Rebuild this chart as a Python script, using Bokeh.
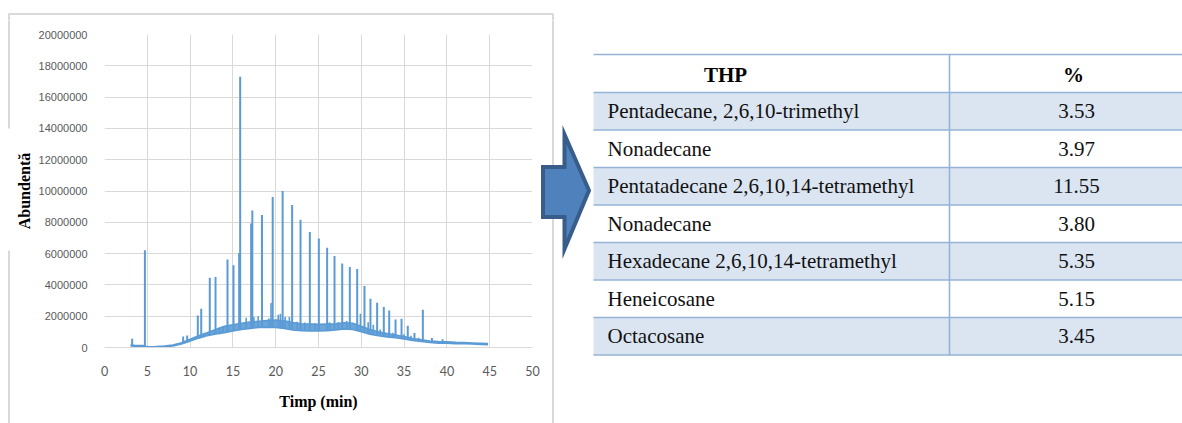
from bokeh.plotting import figure
from bokeh.layouts import row, column
from bokeh.models import Range1d, FixedTicker, BasicTickFormatter
from bokeh.core.properties import value
from bokeh.embed import file_html
from bokeh.resources import INLINE

# ---------------- chromatogram data ----------------
x_ticks = [0, 5, 10, 15, 20, 25, 30, 35, 40, 45, 50]
y_ticks = [0, 2000000, 4000000, 6000000, 8000000, 10000000,
           12000000, 14000000, 16000000, 18000000, 20000000]

# main peaks: retention time (min), apex and foot abundance (millions)
peak_rt = [3.23, 4.72, 9.19, 9.66, 10.90, 11.30, 12.30, 12.97, 14.37, 15.07,
           15.73, 15.85, 17.13, 17.27, 18.40, 19.65, 20.81, 21.92, 22.90, 23.99,
           25.04, 26.01, 26.87, 27.77, 28.66, 29.52, 30.37, 31.07, 31.85, 32.63,
           33.26, 34.00, 34.70, 35.43, 36.21, 37.19, 38.25, 39.50]
peak_top_m = [0.56, 6.21, 0.70, 0.77, 2.05, 2.48, 4.46, 4.50, 5.63, 5.25,
              6.04, 17.30, 7.92, 8.75, 8.47, 9.62, 10.00, 9.10, 8.17, 7.38,
              6.96, 6.38, 5.85, 5.36, 5.14, 5.01, 3.93, 3.12, 2.86, 2.58,
              2.37, 1.79, 1.84, 1.39, 0.92, 2.41, 0.61, 0.53]
peak_foot_m = [0.10, 0.07, 0.22, 0.30, 0.55, 0.62, 0.78, 0.85, 0.98, 1.05,
               1.12, 1.13, 1.22, 1.23, 1.28, 1.30, 1.24, 1.13, 1.08, 1.05,
               1.05, 1.08, 1.12, 1.17, 1.16, 1.10, 0.95, 0.85, 0.77, 0.70,
               0.66, 0.62, 0.57, 0.52, 0.44, 0.38, 0.32, 0.28]

# small spikes riding on the hump
minor_rt = [11.65, 13.45, 13.85, 16.55, 17.45, 17.95, 19.20, 19.45, 20.30, 20.55,
            21.10, 21.60, 22.50, 23.40, 24.60, 26.30, 27.30, 28.30, 29.90, 30.80,
            31.40, 32.20, 33.70, 35.00, 35.80, 36.70]
minor_top_m = [0.95, 1.28, 1.30, 1.90, 1.95, 2.00, 1.85, 2.85, 2.10, 2.15,
               1.95, 1.95, 1.65, 1.60, 1.55, 1.62, 1.62, 1.70, 2.15, 1.62,
               1.45, 1.15, 0.95, 0.85, 0.75, 0.62]
minor_foot_m = [0.66, 0.85, 0.92, 1.18, 1.24, 1.27, 1.30, 1.30, 1.28, 1.27,
                1.22, 1.17, 1.10, 1.07, 1.05, 1.09, 1.14, 1.18, 1.05, 0.88,
                0.80, 0.73, 0.64, 0.55, 0.48, 0.41]

# noisy baseline band: lower / upper envelope (millions)
base_rt = [3.05, 3.5, 4.5, 5.0, 6.0, 7.0, 8.0, 9.0, 10.0, 11.0, 12.0, 13.0,
           14.0, 15.0, 16.0, 17.0, 18.0, 19.0, 20.0, 21.0, 22.0, 23.0, 24.0,
           25.0, 26.0, 27.0, 28.0, 29.0, 30.0, 31.0, 32.0, 33.0, 34.0, 35.0,
           36.0, 37.0, 38.0, 39.0, 40.0, 41.0, 42.0, 43.0, 44.0, 44.8]
base_low_m = [0.10, 0.08, 0.07, 0.02, 0.03, 0.05, 0.10, 0.22, 0.42, 0.60,
              0.76, 0.86, 0.95, 1.05, 1.15, 1.22, 1.28, 1.30, 1.28, 1.22,
              1.12, 1.08, 1.05, 1.05, 1.08, 1.12, 1.18, 1.15, 1.00, 0.85,
              0.75, 0.68, 0.62, 0.55, 0.45, 0.38, 0.32, 0.28, 0.27, 0.25,
              0.24, 0.22, 0.20, 0.18]
base_high_m = [0.16, 0.14, 0.12, 0.05, 0.06, 0.09, 0.16, 0.30, 0.52, 0.75,
               0.95, 1.15, 1.35, 1.45, 1.55, 1.62, 1.68, 1.72, 1.75, 1.70,
               1.60, 1.52, 1.50, 1.48, 1.50, 1.52, 1.58, 1.55, 1.35, 1.15,
               1.00, 0.90, 0.80, 0.70, 0.58, 0.50, 0.42, 0.38, 0.36, 0.33,
               0.31, 0.29, 0.27, 0.25]

# ---------------- table data ----------------
table_header = ["THP", "%"]
compounds = ["Pentadecane, 2,6,10-trimethyl", "Nonadecane",
             "Pentatadecane 2,6,10,14-tetramethyl", "Nonadecane",
             "Hexadecane 2,6,10,14-tetramethyl", "Heneicosane", "Octacosane"]
percent = ["3.53", "3.97", "11.55", "3.80", "5.35", "5.15", "3.45"]

M = 1e6
TRACE = "#5b9bd5"
GRID = "#d9d9d9"
FRAME = "#d9d9d9"
W, H = 1182, 423
TOP_H = 20          # strip holding the top edge of the chart box
LEFT_W = 12         # strip holding the left edge of the chart box
W1 = 540            # right edge of the chromatogram panel


def bare(fig):
    """Strip axes, grids and borders so a figure works as a drawing surface."""
    fig.axis.visible = False
    fig.grid.visible = False
    fig.outline_line_color = None
    fig.background_fill_color = "white"
    fig.border_fill_color = "white"
    fig.min_border_left = fig.min_border_right = 0
    fig.min_border_top = fig.min_border_bottom = 0
    return fig


def no_align(fig):
    if "frame_align" in fig.properties():
        fig.frame_align = False
    return fig


# ---------------- top strip: upper edge of the chart box ----------------
top = bare(figure(width=W, height=TOP_H, x_range=Range1d(0, W), y_range=Range1d(TOP_H, 0),
                  output_backend="svg", toolbar_location=None, min_border=0))
top.segment(x0=[8, 8.5, 552.5], y0=[13.5, 13, 13], x1=[552.5, 8.5, 552.5],
            y1=[13.5, TOP_H + 1, TOP_H + 1], line_color=FRAME, line_width=2)

# ---------------- left strip: left edge of the chart box ----------------
left = bare(figure(width=LEFT_W, height=H - TOP_H, x_range=Range1d(0, LEFT_W),
                   y_range=Range1d(H, TOP_H), output_backend="svg",
                   toolbar_location=None, min_border=0))
left.segment(x0=[8.5, 8.5], y0=[TOP_H - 1, 250], x1=[8.5, 8.5], y1=[128, H + 2],
             line_color=FRAME, line_width=2)

# ---------------- chromatogram figure ----------------
p1 = figure(width=W1 - LEFT_W, height=H - TOP_H,
            x_range=Range1d(0, 50), y_range=Range1d(0, 20 * M),
            output_backend="svg", toolbar_location=None,
            min_border_left=104 - LEFT_W, min_border_right=W1 - 532,
            min_border_top=34 - TOP_H, min_border_bottom=76)
p1.outline_line_color = None
p1.background_fill_color = "white"
p1.border_fill_color = "white"

for ax in (p1.xaxis[0], p1.yaxis[0]):
    ax.major_tick_line_color = None
    ax.minor_tick_line_color = None
    ax.major_label_text_color = "#595959"
    ax.axis_label_text_font = "Liberation Serif"
    ax.axis_label_text_font_style = "bold"
    ax.axis_label_text_font_size = "16px"
    ax.axis_label_text_color = "#000000"

p1.xaxis.ticker = FixedTicker(ticks=x_ticks)
p1.yaxis.ticker = FixedTicker(ticks=y_ticks)
p1.yaxis.formatter = BasicTickFormatter(use_scientific=False)
p1.xaxis.axis_line_color = GRID
p1.yaxis.axis_line_color = None
p1.xaxis.major_label_text_font = "Lato"
p1.xaxis.major_label_text_font_size = "12.5px"
p1.yaxis.major_label_text_font = "Liberation Sans"
p1.yaxis.major_label_text_font_size = "11px"
p1.xaxis.major_label_standoff = 12
p1.yaxis.major_label_standoff = 11
p1.xaxis.axis_label = "Timp (min)"
p1.yaxis.axis_label = "Abundentă"
p1.xaxis.axis_label_standoff = 14
p1.yaxis.axis_label_standoff = 3

p1.xgrid.ticker = FixedTicker(ticks=x_ticks)
p1.ygrid.ticker = FixedTicker(ticks=y_ticks)
p1.xgrid.grid_line_color = GRID
p1.ygrid.grid_line_color = GRID
p1.xgrid.grid_line_width = 1
p1.ygrid.grid_line_width = 1

low = [v * M for v in base_low_m]
high = [v * M for v in base_high_m]
p1.varea(x=base_rt, y1=low, y2=high, fill_color=TRACE, fill_alpha=0.9)
p1.line(base_rt, low, line_color=TRACE, line_width=1.6)
p1.line(base_rt, high, line_color=TRACE, line_width=1.6)
p1.segment(x0=minor_rt, y0=[v * M for v in minor_foot_m], x1=minor_rt,
           y1=[v * M for v in minor_top_m], line_color=TRACE, line_width=1.6)
p1.segment(x0=peak_rt, y0=[v * M for v in peak_foot_m], x1=peak_rt,
           y1=[v * M for v in peak_top_m], line_color=TRACE, line_width=2)

# ---------------- arrow + table figure ----------------
p2 = bare(figure(width=W - W1, height=H - TOP_H, x_range=Range1d(W1, W),
                 y_range=Range1d(H, TOP_H), output_backend="svg",
                 toolbar_location=None, min_border=0))

# right edge of the chart box
p2.segment(x0=[552.5], y0=[TOP_H - 1], x1=[552.5], y1=[H + 2],
           line_color=FRAME, line_width=2)

# block arrow
p2.patch(x=[542.5, 564, 564, 588.5, 564, 564, 542.5],
         y=[166.5, 166.5, 134, 190, 248.5, 216.5, 216.5],
         fill_color="#4f81bd", line_color="#385d8a", line_width=4,
         line_join="miter")

# table
tab_left, tab_right, col_split = 593, 1195, 949
head_top, head_h, row_h = 54, 38, 37.5
n = len(compounds)
row_tops = [head_top + head_h + i * row_h for i in range(n)]
shaded = [i for i in range(n) if i % 2 == 0]
p2.quad(left=tab_left, right=tab_right,
        top=[row_tops[i] for i in shaded],
        bottom=[row_tops[i] + row_h for i in shaded],
        fill_color="#dbe5f1", line_color=None)
h_lines = [head_top] + row_tops + [row_tops[-1] + row_h]
p2.segment(x0=tab_left, y0=h_lines, x1=tab_right, y1=h_lines,
           line_color="#95b3d7", line_width=1.6)
p2.segment(x0=[col_split], y0=[head_top], x1=[col_split], y1=[h_lines[-1]],
           line_color="#95b3d7", line_width=1.6)

serif = value("Liberation Serif")
p2.text(x=[725, 1073], y=[head_top + 20.5] * 2, text=table_header,
        text_font=serif, text_font_style="bold", text_font_size="21px",
        text_align="center", text_baseline="alphabetic", text_color="#000000")
p2.text(x=[607] * n, y=[t + 18.7 for t in row_tops], text=compounds,
        text_font=serif, text_font_size="21px",
        text_align="left", text_baseline="alphabetic", text_color="#111111")
p2.text(x=[1076] * n, y=[t + 18.7 for t in row_tops], text=percent,
        text_font=serif, text_font_size="21px",
        text_align="center", text_baseline="alphabetic", text_color="#111111")

for f in (top, left, p1, p2):
    no_align(f)

layout = column(top, row(left, p1, p2, spacing=0), spacing=0)
open("out.html", "w").write(file_html(layout, INLINE))
